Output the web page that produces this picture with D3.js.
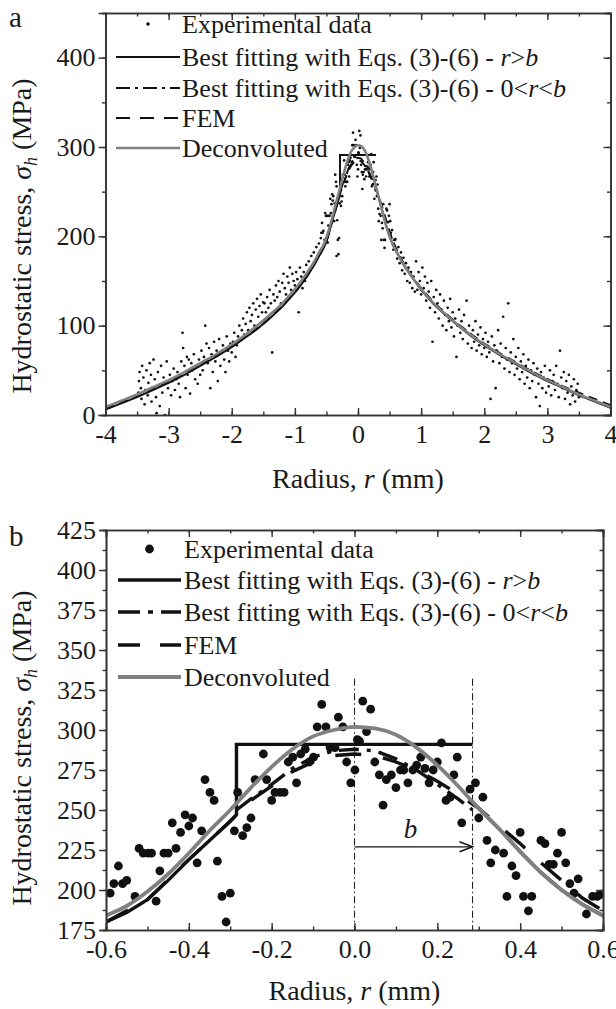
<!DOCTYPE html>
<html><head><meta charset="utf-8">
<script src="https://cdn.jsdelivr.net/npm/d3@7"></script>
<style>
body{margin:0;background:#fff}
svg{display:block}
svg text{font-family:"Liberation Serif","Times New Roman","DejaVu Serif",serif !important;fill:#1a1a1a}
</style>
</head><body>
<svg id="chart" width="616" height="1009"></svg>
<script>
// ---------- DATA ----------
const bValue = 0.285;
const xTicksA = [-4,-3,-2,-1,0,1,2,3,4];
const yTicksA = [0,100,200,300,400];
const xTicksB = [-0.6,-0.4,-0.2,0,0.2,0.4,0.6];
const yTicksB = [175,200,225,250,275,300,325,350,375,400,425];

// experimental points near the centre
const expB = [
[-0.590,198],[-0.570,215],[-0.581,204],[-0.560,204],[-0.550,206],[-0.530,196],[-0.520,226],[-0.510,223],
[-0.498,223],[-0.490,223],[-0.479,193],[-0.470,212],[-0.460,223],[-0.450,223],[-0.431,226],[-0.440,242],
[-0.420,236],[-0.409,247],[-0.400,240],[-0.391,245],[-0.380,217],[-0.369,237],[-0.361,269],[-0.349,261],
[-0.339,256],[-0.331,218],[-0.320,196],[-0.300,198],[-0.310,180],[-0.290,237],[-0.282,261],[-0.270,234],
[-0.260,239],[-0.250,245],[-0.240,269],[-0.220,285],[-0.212,269],[-0.200,256],[-0.192,261],[-0.180,261],
[-0.170,261],[-0.160,280],[-0.149,283],[-0.140,267],[-0.130,285],[-0.119,288],[-0.109,280],[-0.099,283],
[-0.090,302],[-0.079,316],[-0.069,302],[-0.059,289],[-0.047,289],[-0.039,308],[-0.028,302],[-0.019,280],
[-0.009,267],[0.001,275],[0.007,294],
[0.020,318],[0.039,313],[0.029,299],[0.012,293],[0.049,280],[0.060,272],[0.077,269],[0.089,272],
[0.100,264],[0.069,253],[0.111,275],[0.119,275],[0.129,267],[0.141,275],[0.150,278],[0.160,283],
[0.170,276],[0.180,267],[0.190,275],[0.200,280],[0.210,292],[0.221,256],[0.231,258],[0.240,272],
[0.248,283],[0.259,242],[0.279,263],[0.292,267],[0.300,245],[0.310,258],[0.320,231],[0.329,217],
[0.340,225],[0.360,223],[0.380,215],[0.390,209],[0.400,236],[0.368,196],[0.408,196],[0.428,196],
[0.420,187],[0.450,231],[0.460,229],[0.470,216],[0.480,216],[0.490,223],[0.500,236],[0.510,217],
[0.520,204],[0.530,198],[0.540,207],[0.560,185],[0.575,196],[0.586,196],[0.592,197]
];

// extra experimental points of panel a (|r| > 0.6)
const expAOuter = [
[-3.48,25],[-3.47,38],[-3.46,48],[-3.44,30],[-3.43,18],[-3.42,55],[-3.40,42],[-3.38,12],[-3.37,28],[-3.35,50],
[-3.33,22],[-3.32,36],[-3.30,58],[-3.28,45],[-3.27,15],[-3.25,30],[-3.24,62],[-3.22,40],[-3.20,20],[-3.19,2],
[-3.17,48],[-3.15,33],[-3.14,10],[-3.12,55],[-3.10,25],[-3.08,42],[-3.06,0],[-3.05,36],[-3.03,60],[-3.01,30],
[-2.98,45],[-2.96,22],[-2.94,38],[-2.92,52],[-2.90,28],[-2.88,40],[-2.86,48],[-2.84,35],[-2.82,20],[-2.80,60],
[-2.78,92],[-2.77,75],[-2.75,55],[-2.73,30],[-2.71,65],[-2.70,45],[-2.68,62],[-2.66,24],[-2.64,58],[-2.62,50],
[-2.60,68],[-2.58,40],[-2.56,55],[-2.54,35],[-2.52,62],[-2.50,45],
[-2.48,72],[-2.46,50],[-2.44,65],[-2.42,100],[-2.40,80],[-2.38,58],[-2.36,75],[-2.34,30],[-2.32,68],[-2.30,48],
[-2.28,82],[-2.26,60],[-2.24,72],[-2.22,38],[-2.20,85],[-2.18,55],[-2.16,70],[-2.14,78],[-2.12,62],[-2.10,48],
[-2.08,88],[-2.06,72],[-2.04,60],[-2.02,80],[-2.00,70],
[-1.98,82],[-1.96,92],[-1.94,65],[-1.92,78],[-1.90,88],[-1.88,100],[-1.86,85],[-1.84,95],[-1.82,108],[-1.80,90],
[-1.78,102],[-1.76,115],[-1.74,95],[-1.72,120],[-1.70,105],[-1.68,112],[-1.66,125],[-1.64,100],[-1.62,118],[-1.60,130],
[-1.58,110],[-1.56,122],[-1.54,135],[-1.52,115],[-1.50,126],
[-1.48,125],[-1.46,115],[-1.44,132],[-1.42,120],[-1.40,140],[-1.38,125],[-1.36,70],[-1.34,135],[-1.32,128],[-1.30,145],
[-1.28,132],[-1.26,150],[-1.24,138],[-1.22,125],[-1.20,148],[-1.18,158],[-1.16,142],[-1.14,135],[-1.12,155],[-1.10,148],
[-1.08,165],[-1.06,140],[-1.04,158],[-1.02,150],[-1.00,145],[-0.98,160],[-0.96,152],[-0.94,115],[-0.92,165],
[-0.90,155],[-0.88,142],[-0.86,160],[-0.84,150],[-0.82,168],[-0.80,158],[-0.78,172],[-0.76,162],[-0.74,178],[-0.72,168],
[-0.70,182],[-0.68,172],[-0.66,188],[-0.64,178],[-0.62,192],[-0.34,178],
[0.62,175],[0.64,188],[0.66,170],[0.68,182],[0.70,162],[0.72,176],[0.74,158],[0.76,170],[0.78,150],[0.80,165],
[0.82,148],[0.84,160],[0.86,142],[0.88,155],[0.90,138],
[0.92,172],[0.94,140],[0.96,160],[0.98,150],[1.00,135],[1.02,165],[1.04,142],[1.06,155],[1.08,128],[1.10,148],
[1.12,138],[1.14,120],[1.16,150],[1.18,82],[1.20,132],[1.22,115],[1.24,140],[1.26,125],[1.28,108],[1.30,135],
[1.32,118],[1.34,100],[1.36,128],[1.38,112],[1.40,95],[1.42,120],[1.44,105],[1.46,130],[1.48,98],[1.50,115],
[1.52,88],[1.54,108],[1.56,65],[1.58,100],[1.60,118],[1.62,92],[1.64,105],[1.66,85],[1.68,112],[1.70,95],
[1.72,128],[1.74,80],[1.76,100],[1.78,90],[1.80,75],[1.82,95],[1.84,82],[1.86,105],[1.88,72],[1.90,90],
[1.92,78],[1.94,98],[1.96,68],[1.98,85],[2.00,75],[2.02,92],[2.04,65],[2.06,82],[2.08,70],[2.10,18],
[2.12,88],[2.14,60],[2.16,78],[2.18,30],[2.20,72],[2.22,95],[2.24,58],[2.26,80],[2.28,65],[2.30,110],
[2.32,52],[2.34,75],[2.36,62],[2.38,125],[2.40,48],[2.42,70],[2.44,58],[2.46,85],[2.48,45],[2.50,65],
[2.52,52],[2.54,75],[2.56,40],[2.58,60],[2.60,48],[2.62,68],[2.64,35],[2.66,55],[2.68,42],[2.70,62],
[2.72,30],[2.74,50],[2.76,38],[2.78,58],[2.80,45],[2.82,20],[2.84,52],[2.86,35],[2.88,10],[2.90,48],
[2.92,30],[2.94,42],[2.96,55],[2.98,25],[3.00,40],[3.02,32],[3.04,50],[3.06,22],[3.08,38],[3.10,45],
[3.12,28],[3.14,55],[3.16,35],[3.18,20],[3.20,72],[3.22,42],[3.24,30],[3.26,48],[3.28,18],[3.30,38],
[3.32,25],[3.34,45],[3.36,12],[3.38,32],[3.40,22],[3.42,40],[3.44,15],[3.46,28],[3.48,35],[3.50,20]
];

// deconvoluted profile
const decon = [
[-4,9],[-3.75,16],[-3.5,23],[-3.25,31],[-3,39],[-2.75,48],[-2.5,58],[-2.25,68],[-2,79],[-1.8,89],[-1.6,100],
[-1.4,112],[-1.2,125],[-1,141],[-0.9,150],[-0.8,160],[-0.7,171],[-0.6,184],[-0.55,190],[-0.5,199],[-0.45,210],
[-0.4,223],[-0.35,237],[-0.3,250],[-0.25,264],[-0.2,277],[-0.15,288],[-0.1,296],[-0.05,300],[0,302],[0.05,301],
[0.1,297],[0.15,289],[0.2,278],[0.25,265],[0.3,251],[0.35,238],[0.4,224],[0.45,211],[0.5,200],[0.55,191],
[0.6,184],[0.7,171],[0.8,160],[0.9,150],[1,141],[1.2,125],[1.4,112],[1.6,100],[1.8,89],[2,79],[2.25,68],
[2.5,58],[2.75,48],[3,39],[3.25,31],[3.5,23],[3.75,16],[4,9]
];
// best fitting, r > b (left branch + plateau)
const fitOuterLeft = [
[-4,6],[-3.75,13],[-3.5,20],[-3.25,28],[-3,36],[-2.75,45],[-2.5,55],[-2.25,65],[-2,76],[-1.8,86],[-1.6,96],
[-1.4,108],[-1.2,121],[-1,137],[-0.9,146],[-0.8,156],[-0.7,167],[-0.6,180],[-0.55,186],[-0.5,194],[-0.45,206],
[-0.4,219],[-0.35,231],[-0.3,243],[-0.285,247],[-0.285,291],[0.285,291]
];
const fitOuterRight = [
[0.285,255],[0.3,251],[0.35,238],[0.4,224],[0.45,211],[0.5,200],[0.55,191],[0.6,184],[0.7,171],[0.8,160],
[0.9,150],[1,140],[1.2,124],[1.4,111],[1.6,99],[1.8,88],[2,78],[2.25,67],[2.5,57],[2.75,47],[3,38],[3.25,30],
[3.5,22],[3.75,15],[4,8]
];
// best fitting, 0 < r < b
const fitInner = [
[-0.285,250],[-0.25,257],[-0.2,266],[-0.15,276],[-0.1,283],[-0.05,287],[0,288],[0.05,287],[0.1,282],
[0.15,275],[0.2,266],[0.25,257],[0.285,250]
];
// FEM
const fem = [
[-4,7],[-3.5,21],[-3,37],[-2.5,56],[-2,77],[-1.5,102],[-1,137],[-0.8,156],[-0.6,180],[-0.5,194],[-0.4,219],
[-0.3,243],[-0.25,256],[-0.2,265],[-0.15,274],[-0.1,280],[-0.05,284],[0,285],[0.05,284],[0.1,280],[0.15,275],
[0.2,268],[0.25,260],[0.3,251],[0.35,240],[0.4,229],[0.45,217],[0.5,206],[0.55,195],[0.6,187],[0.7,173],
[0.8,161],[0.9,151],[1,142],[1.2,126],[1.4,113],[1.6,101],[1.8,90],[2,80],[2.25,69],[2.5,59],[2.75,49],
[3,40],[3.25,32],[3.5,25],[3.75,18],[4,11]
];

const legendLabels = ["Experimental data","Best fitting with Eqs. (3)-(6) - ","Best fitting with Eqs. (3)-(6) - 0<","FEM","Deconvoluted"];

// ---------- DRAW ----------
const svg = d3.select("#chart");
const GRAY = "#808080", BLACK = "#111";
const FONT = '"Liberation Serif","Times New Roman","DejaVu Serif",serif';

function panel(cfg){
  const g = svg.append("g");
  const x = d3.scaleLinear().domain(cfg.xDom).range([cfg.left, cfg.right]);
  const y = d3.scaleLinear().domain(cfg.yDom).range([cfg.bottom, cfg.top]);
  const clipId = "clip" + cfg.id;
  svg.append("clipPath").attr("id", clipId).append("rect")
    .attr("x", cfg.left).attr("y", cfg.top).attr("width", cfg.right-cfg.left).attr("height", cfg.bottom-cfg.top);
  const plot = g.append("g").attr("clip-path", `url(#${clipId})`);

  if (cfg.refLines){
    [0, bValue].forEach(v => {
      plot.append("line").attr("x1", x(v)).attr("x2", x(v)).attr("y1", y(332)).attr("y2", y(175))
        .attr("stroke", "#222").attr("stroke-width", 1.1).attr("stroke-dasharray", "7,3,1.5,3");
    });
  }
  plot.selectAll("circle.pt").data(cfg.points).join("circle").attr("class","pt")
    .attr("cx", d => x(d[0])).attr("cy", d => y(d[1])).attr("r", cfg.dotR).attr("fill", "#111");

  const line = d3.line().x(d => x(d[0])).y(d => y(d[1]));
  const smooth = d3.line().x(d => x(d[0])).y(d => y(d[1])).curve(d3.curveMonotoneX);
  plot.append("path").attr("d", line(fem)).attr("fill","none").attr("stroke",BLACK)
    .attr("stroke-width", cfg.bw).attr("stroke-dasharray", cfg.femDash);
  plot.append("path").attr("d", line(fitInner)).attr("fill","none").attr("stroke",BLACK)
    .attr("stroke-width", cfg.bw).attr("stroke-dasharray", cfg.ddDash);
  plot.append("path").attr("d", line(fitOuterRight)).attr("fill","none").attr("stroke",BLACK).attr("stroke-width", cfg.bw);
  plot.append("path").attr("d", line(fitOuterLeft)).attr("fill","none").attr("stroke",BLACK).attr("stroke-width", cfg.bw);
  plot.append("path").attr("d", smooth(decon)).attr("fill","none").attr("stroke",GRAY).attr("stroke-width", cfg.gw);

  if (cfg.refLines){
    const ya = y(227), x0 = x(0), x1 = x(bValue);
    g.append("line").attr("x1", x0).attr("x2", x1-1).attr("y1", ya).attr("y2", ya).attr("stroke","#111").attr("stroke-width",1.3);
    g.append("path").attr("d", `M${x1-13},${ya-5} L${x1},${ya} L${x1-13},${ya+5}`).attr("fill","none").attr("stroke","#111").attr("stroke-width",1.5);
    g.append("text").attr("x", x(0.135)).attr("y", y(238)+9).attr("text-anchor","middle")
      .attr("font-size", 27).attr("font-style","italic").text("b");
  }

  const axStyle = sel => { sel.attr("font-family", FONT);
    sel.select(".domain").attr("stroke","#333").attr("stroke-width",1.6);
    sel.selectAll(".tick line").attr("stroke","#333").attr("stroke-width",1.4);
    sel.selectAll("text").attr("font-size",cfg.tickFont).attr("fill","#1a1a1a"); };
  const minorX = d3.range(cfg.xDom[0], cfg.xDom[1]+1e-9, cfg.xMinor);
  const minorY = d3.range(cfg.yDom[0], cfg.yDom[1]+1e-9, cfg.yMinor);
  g.append("g").attr("transform",`translate(0,${cfg.bottom})`)
    .call(d3.axisBottom(x).tickValues(minorX).tickSize(-3.5).tickFormat("")).call(axStyle);
  g.append("g").attr("transform",`translate(0,${cfg.top})`)
    .call(d3.axisTop(x).tickValues(minorX).tickSize(-3.5).tickFormat("")).call(axStyle);
  g.append("g").attr("transform",`translate(${cfg.left},0)`)
    .call(d3.axisLeft(y).tickValues(minorY).tickSize(3.5).tickFormat("")).call(axStyle);
  g.append("g").attr("transform",`translate(${cfg.right},0)`)
    .call(d3.axisRight(y).tickValues(minorY).tickSize(-3.5).tickFormat("")).call(axStyle);
  g.append("g").attr("transform",`translate(0,${cfg.bottom})`)
    .call(d3.axisBottom(x).tickValues(cfg.xTicks).tickSize(-7).tickPadding(cfg.xPad).tickFormat(cfg.fmtX)).call(axStyle);
  g.append("g").attr("transform",`translate(0,${cfg.top})`)
    .call(d3.axisTop(x).tickValues(cfg.xTicks).tickSize(-7).tickFormat("")).call(axStyle);
  g.append("g").attr("transform",`translate(${cfg.left},0)`)
    .call(d3.axisLeft(y).tickValues(cfg.yTicks).tickSize(7).tickPadding(3).tickFormat(d => String(d))).call(axStyle);
  g.append("g").attr("transform",`translate(${cfg.right},0)`)
    .call(d3.axisRight(y).tickValues(cfg.yTicks).tickSize(-7).tickFormat("")).call(axStyle);

  const xt = g.append("text").attr("x", (cfg.left+cfg.right)/2).attr("y", cfg.xTitleY)
    .attr("text-anchor","middle").attr("font-size", 28);
  xt.append("tspan").text("Radius, ");
  xt.append("tspan").attr("font-style","italic").text("r");
  xt.append("tspan").text(" (mm)");
  const yt = g.append("text").attr("transform",`translate(31,${cfg.yTitleMid}) rotate(-90)`)
    .attr("text-anchor","middle").attr("font-size", 28);
  yt.append("tspan").text("Hydrostatic stress, ");
  yt.append("tspan").attr("font-style","italic").text("σ");
  yt.append("tspan").attr("font-style","italic").attr("font-size",18).attr("dy",6).text("h");
  yt.append("tspan").attr("dy",-6).text(" (MPa)");
  g.append("text").attr("x", 9).attr("y", cfg.letterY).attr("font-size", 29).text(cfg.letter);

  const L = cfg.legend, rows = L.rows;
  g.append("circle").attr("cx", (L.x0+L.x1)/2).attr("cy", rows[0]).attr("r", cfg.legDot).attr("fill","#111");
  const styles = [null, {c:BLACK,d:null}, {c:BLACK,d:L.dd}, {c:BLACK,d:L.fem}, {c:GRAY,d:null}];
  for (let i=1;i<5;i++){
    g.append("line").attr("x1",L.x0).attr("x2",L.x1).attr("y1",rows[i]).attr("y2",rows[i])
      .attr("stroke",styles[i].c).attr("stroke-width", i==4?cfg.gw:cfg.bw).attr("stroke-dasharray", styles[i].d);
  }
  for (let i=0;i<5;i++){
    const t = g.append("text").attr("x", L.tx).attr("y", rows[i]+9).attr("font-size", 26);
    t.append("tspan").text(legendLabels[i]);
    if (i==1){ t.append("tspan").attr("font-style","italic").text("r"); t.append("tspan").text(">");
      t.append("tspan").attr("font-style","italic").text("b"); }
    if (i==2){ t.append("tspan").attr("font-style","italic").text("r"); t.append("tspan").text("<");
      t.append("tspan").attr("font-style","italic").text("b"); }
  }
}

panel({id:"a", letter:"a", letterY:27, xDom:[-4,4], yDom:[0,450], left:105.5, right:610.5, top:13, bottom:415,
  xTicks:xTicksA, yTicks:yTicksA, xMinor:0.5, yMinor:50, fmtX:d=>String(d), xPad:10,
  points: expAOuter.concat(expB), dotR:1.35, bw:2, gw:2.6, femDash:"9,6", ddDash:"9,4,2,4",
  tickFont:26, xTitleY:488, yTitleMid:236,
  legend:{rows:[24,57,88,118,148], x0:116, x1:180, tx:182, dd:"14,5,3,5", fem:"14,10"}, legDot:1.8});

panel({id:"b", letter:"b", letterY:546, xDom:[-0.6,0.6], yDom:[175,425], left:106, right:603, top:530, bottom:930,
  xTicks:xTicksB, yTicks:yTicksB, xMinor:0.1, yMinor:12.5, fmtX:d=>d.toFixed(1), xPad:10,
  points: expB, dotR:4.4, bw:3.4, gw:3.8, femDash:"26,22", ddDash:"20,8,4,8",
  tickFont:26, refLines:true, xTitleY:1000, yTitleMid:748,
  legend:{rows:[549,580,612,645,677], x0:118, x1:181, tx:184, dd:"22,8,5,8", fem:"22,20"}, legDot:4.4});
</script>
</body></html>
